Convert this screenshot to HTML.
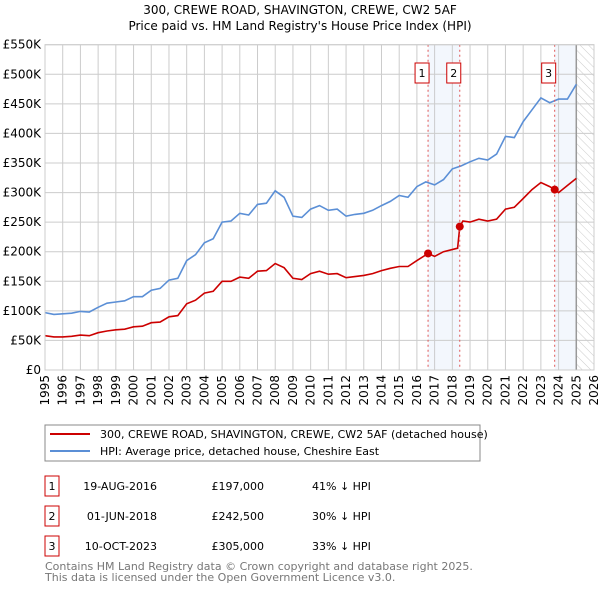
<!DOCTYPE html>
<html><head><meta charset="utf-8"><style>
body{margin:0;background:#fff;width:600px;height:590px;overflow:hidden;font-family:"DejaVu Sans","Liberation Sans",sans-serif;}
svg text{font-family:"DejaVu Sans","Liberation Sans",sans-serif;}
</style></head><body>
<svg id="chart" width="600" height="590">
<defs><pattern id="hatch" width="6" height="6" patternUnits="userSpaceOnUse" patternTransform="rotate(-45)"><line x1="0" y1="0" x2="0" y2="6" stroke="#ccc" stroke-width="1"/></pattern></defs>
<text x="300" y="14" text-anchor="middle" font-size="12">300, CREWE ROAD, SHAVINGTON, CREWE, CW2 5AF</text>
<text x="300" y="30" text-anchor="middle" font-size="12">Price paid vs. HM Land Registry's House Price Index (HPI)</text>
<g id="grid"></g><g id="marks"></g><g id="axes"></g>
<rect x="45" y="425" width="435" height="36" fill="none" stroke="#888"/>
<line x1="50" y1="434" x2="90" y2="434" stroke="#cc0000" stroke-width="2"/>
<text x="100" y="438" font-size="11">300, CREWE ROAD, SHAVINGTON, CREWE, CW2 5AF (detached house)</text>
<line x1="50" y1="451" x2="90" y2="451" stroke="#5b8fd6" stroke-width="2"/>
<text x="100" y="455" font-size="11">HPI: Average price, detached house, Cheshire East</text>
<g font-size="11">
<rect x="45" y="476" width="14" height="20" fill="none" stroke="#cc0000"/><text x="52" y="487" text-anchor="middle" dominant-baseline="middle">1</text>
<text x="157" y="487" text-anchor="end" dominant-baseline="middle">19-AUG-2016</text>
<text x="264" y="487" text-anchor="end" dominant-baseline="middle">£197,000</text>
<text x="312" y="487" dominant-baseline="middle">41% ↓ HPI</text>
<rect x="45" y="506" width="14" height="20" fill="none" stroke="#cc0000"/><text x="52" y="517" text-anchor="middle" dominant-baseline="middle">2</text>
<text x="157" y="517" text-anchor="end" dominant-baseline="middle">01-JUN-2018</text>
<text x="264" y="517" text-anchor="end" dominant-baseline="middle">£242,500</text>
<text x="312" y="517" dominant-baseline="middle">30% ↓ HPI</text>
<rect x="45" y="536" width="14" height="20" fill="none" stroke="#cc0000"/><text x="52" y="547" text-anchor="middle" dominant-baseline="middle">3</text>
<text x="157" y="547" text-anchor="end" dominant-baseline="middle">10-OCT-2023</text>
<text x="264" y="547" text-anchor="end" dominant-baseline="middle">£305,000</text>
<text x="312" y="547" dominant-baseline="middle">33% ↓ HPI</text>
</g>
<text x="45" y="570" font-size="11" fill="#777">Contains HM Land Registry data © Crown copyright and database right 2025.</text>
<text x="45" y="581" font-size="11" fill="#777">This data is licensed under the Open Government Licence v3.0.</text>
</svg>
<script>
const yTicks=[0,50,100,150,200,250,300,350,400,450,500,550];
const yTickLabels=["£0","£50K","£100K","£150K","£200K","£250K","£300K","£350K","£400K","£450K","£500K","£550K"];
const xYears=[1995,1996,1997,1998,1999,2000,2001,2002,2003,2004,2005,2006,2007,2008,2009,2010,2011,2012,2013,2014,2015,2016,2017,2018,2019,2020,2021,2022,2023,2024,2025,2026];
const hpiDates=[1995,1995.5,1996,1996.5,1997,1997.5,1998,1998.5,1999,1999.5,2000,2000.5,2001,2001.5,2002,2002.5,2003,2003.5,2004,2004.5,2005,2005.5,2006,2006.5,2007,2007.5,2008,2008.5,2009,2009.5,2010,2010.5,2011,2011.5,2012,2012.5,2013,2013.5,2014,2014.5,2015,2015.5,2016,2016.5,2017,2017.5,2018,2018.5,2019,2019.5,2020,2020.5,2021,2021.5,2022,2022.5,2023,2023.5,2024,2024.5,2025];
const hpiValues=[97,94,95,96,99,98,106,113,115,117,124,124,135,138,152,155,185,195,215,222,250,252,265,262,280,282,303,292,260,258,272,278,270,272,260,263,265,270,278,285,295,292,310,318,313,322,340,345,352,358,355,365,395,393,420,440,460,452,458,458,483];
const saleDates=[2016.63,2018.42,2023.78];
const saleValues=[197,242.5,305];
const ppDates=[1995,1995.5,1996,1996.5,1997,1997.5,1998,1998.5,1999,1999.5,2000,2000.5,2001,2001.5,2002,2002.5,2003,2003.5,2004,2004.5,2005,2005.5,2006,2006.5,2007,2007.5,2008,2008.5,2009,2009.5,2010,2010.5,2011,2011.5,2012,2012.5,2013,2013.5,2014,2014.5,2015,2015.5,2016,2016.63,2017,2017.5,2018.3,2018.42,2018.6,2019,2019.5,2020,2020.5,2021,2021.5,2022,2022.5,2023,2023.5,2023.78,2024,2024.5,2025];
const ppValues=[58,56,56,57,59,58,63,66,68,69,73,74,80,81,90,92,112,118,130,133,150,150,157,155,167,168,180,173,155,153,163,167,162,163,156,158,160,163,168,172,175,175,185,197,192,200,206,242.5,252,250,255,252,255,272,275,290,305,317,310,305,300,312,324];
const L=45,R=594,T=44.7,B=370;
const x=d=>L+(d-1995)*(R-L)/31;
const y=v=>B-v*(B-T)/550;
const NS="http://www.w3.org/2000/svg";
function mk(p,t,a){const e=document.createElementNS(NS,t);for(const k in a)e.setAttribute(k,a[k]);p.appendChild(e);return e;}
const grid=document.getElementById('grid'),marks=document.getElementById('marks'),axes=document.getElementById('axes');
let s=mk(grid,'rect',{x:x(saleDates[0]),y:T,width:x(saleDates[1])-x(saleDates[0]),height:B-T,fill:'#f3f7fd'});


s=mk(grid,'rect',{x:x(saleDates[2]),y:T,width:x(2025)-x(saleDates[2]),height:B-T,fill:'#f3f7fd'});


s=mk(grid,'rect',{x:x(2025),y:T,width:R-x(2025),height:B-T,fill:'url(#hatch)'});


yTicks.forEach((v,i)=>{
 const g=mk(grid,'line',{x1:L,x2:R,y1:y(v),y2:y(v),stroke:'#ccc'});
 
 
 const t=mk(axes,'text',{x:L-4,y:y(v)+4,'text-anchor':'end','font-size':'12'});t.textContent=yTickLabels[i];
 
 
});
xYears.forEach(yr=>{
 const g=mk(grid,'line',{x1:x(yr),x2:x(yr),y1:T,y2:B,stroke:'#ccc'});
 
 
 const t=mk(axes,'text',{x:0,y:0,'font-size':'12','text-anchor':'end',transform:`translate(${x(yr)+4},${B+5}) rotate(-90)`});t.textContent=yr;
 
 
});
let nl=mk(grid,'line',{x1:x(2025),x2:x(2025),y1:T,y2:B,stroke:'#999','stroke-width':1.5});


const line=(ds,vs)=>ds.map((d,i)=>(i?'L':'M')+x(d).toFixed(1)+','+y(vs[i]).toFixed(1)).join('');
let h=mk(marks,'path',{d:line(hpiDates,hpiValues),fill:'none',stroke:'#5b8fd6','stroke-width':1.6});


let p=mk(marks,'path',{d:line(ppDates,ppValues),fill:'none',stroke:'#cc0000','stroke-width':1.6});


saleDates.forEach((d,i)=>{
 const v=mk(marks,'line',{x1:x(d),x2:x(d),y1:T,y2:B,stroke:'#e05555','stroke-dasharray':'2,3'});
 
 
 const c=mk(marks,'circle',{cx:x(d),cy:y(saleValues[i]),r:4,fill:'#cc0000'});
 
 
 const bx=x(d)-13;
 const r=mk(marks,'rect',{x:bx,y:63,width:14,height:20,fill:'#fff',stroke:'#cc0000'});
 
 
 const t=mk(marks,'text',{x:bx+7,y:77,'text-anchor':'middle','font-size':'11'});t.textContent=i+1;
 
 
});
let fr=mk(axes,'rect',{x:L,y:T,width:R-L,height:B-T,fill:'none',stroke:'#ccc'});


</script>
</body></html>
